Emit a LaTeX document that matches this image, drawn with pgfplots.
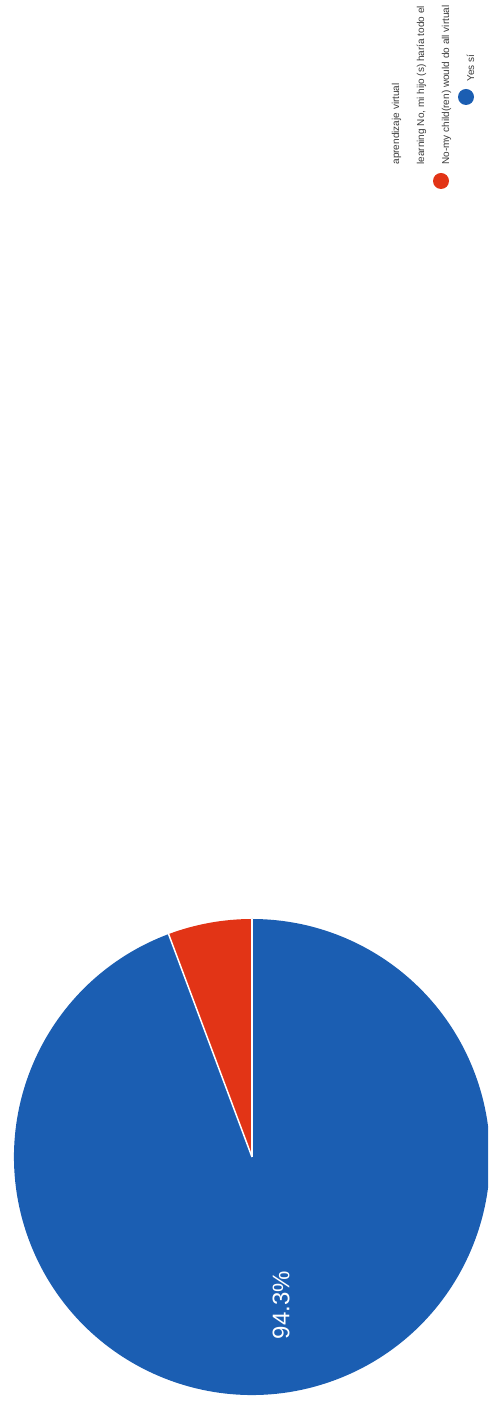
\documentclass[border=0pt]{standalone}
\usepackage{pgfplots}
\pgfplotsset{compat=1.18}
\usepackage{pgfplotstable}
\usepackage{fontspec}
\setmainfont{Liberation Sans}

\definecolor{pieblue}{RGB}{27,94,178}
\definecolor{piered}{RGB}{226,52,22}
\definecolor{legtext}{RGB}{60,60,60}

% shares in percent: yes, no
\pgfplotstableread{
share
94.3
5.7
}\shares

\pgfplotstablegetelem{0}{share}\of\shares \let\yesval=\pgfplotsretval
\pgfplotstablegetelem{1}{share}\of\shares \let\noval=\pgfplotsretval
\pgfmathsetmacro{\cut}{90+3.6*\noval}

\begin{document}
\begin{tikzpicture}
\begin{axis}[
    x=1pt, y=1pt,
    xmin=0, xmax=488, ymin=0, ymax=1414,
    scale only axis,
    hide axis,
]
% pie (page is turned on its side, slices start at the top)
\fill[pieblue] (axis cs:252,257) -- ++(\cut:238pt) arc[start angle=\cut, end angle=450, radius=238pt] -- cycle;
\fill[piered] (axis cs:252,257) -- ++(90:238pt) arc[start angle=90, end angle=\cut, radius=238pt] -- cycle;
\draw[white, line width=1.5pt] (axis cs:252,257) -- ++(90:238pt);
\draw[white, line width=1.5pt] (axis cs:252,257) -- ++(\cut:238pt);
\node[rotate=90, text=white, font=\fontsize{24}{28}\selectfont] at (axis cs:281,109) {\yesval\%};

% legend
\fill[pieblue] (axis cs:466,1317) circle[radius=8pt];
\fill[piered] (axis cs:441,1233) circle[radius=8pt];
\begin{scope}[every node/.style={rotate=90, anchor=base west, text=legtext, font=\fontsize{10}{12}\selectfont}]
\node at (axis cs:474,1329) {Yes sí};
\node at (axis cs:449,1246) {No-my child(ren) would do all virtual};
\node at (axis cs:424,1246) {learning No, mi hijo (s) haría todo el};
\node at (axis cs:399,1246) {aprendizaje virtual};
\end{scope}
\end{axis}
\pgfresetboundingbox
\useasboundingbox (0,0) rectangle (488pt,1414pt);
\end{tikzpicture}
\end{document}
